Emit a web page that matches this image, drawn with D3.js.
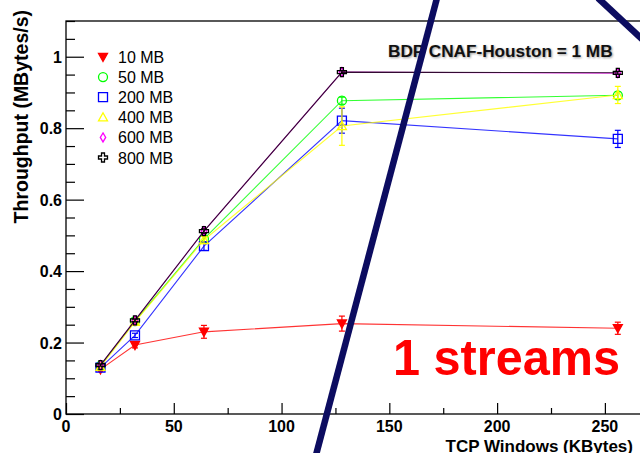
<!DOCTYPE html>
<html>
<head>
<meta charset="utf-8">
<script src="https://cdn.jsdelivr.net/npm/d3@7"></script>
<style>
  html, body { margin: 0; padding: 0; background: #fff; }
  svg { display: block; }
  text { font-family: "Liberation Sans", Arial, sans-serif; }
</style>
</head>
<body>
<svg id="chart" width="640" height="453"></svg>
<script>
// TCP window sizes (KBytes) probed for each transfer size
const windows = [16, 32, 64, 128, 256];

// Series labels, colours and marker kinds
const seriesNames = ["10 MB", "50 MB", "200 MB", "400 MB", "600 MB", "800 MB"];
const seriesColors = ["#ff0000", "#00ff00", "#0000ff", "#ffff00", "#ff00ff", "#000000"];
const seriesMarkers = ["triangleDown", "circle", "square", "triangleUp", "diamond", "cross"];

// Mean throughput (MBytes/s) per window size
const thr10 = [0.125, 0.193, 0.230, 0.253, 0.240];
const thr50 = [0.135, 0.260, 0.490, 0.877, 0.892];
const thr200 = [0.130, 0.220, 0.470, 0.821, 0.770];
const thr400 = [0.132, 0.258, 0.487, 0.806, 0.893];
const thr600 = [0.137, 0.262, 0.512, 0.957, 0.954];
const thr800 = [0.137, 0.262, 0.512, 0.957, 0.955];

// Spread of the measurements (MBytes/s)
const err10 = [0.006, 0.008, 0.018, 0.021, 0.017];
const err50 = [0.004, 0.006, 0.010, 0.010, 0.010];
const err200 = [0.004, 0.006, 0.012, 0.035, 0.024];
const err400 = [0.004, 0.006, 0.010, 0.054, 0.024];
const err600 = [0.003, 0.004, 0.006, 0.004, 0.004];
const err800 = [0.003, 0.004, 0.006, 0.004, 0.004];

const seriesValues = [thr10, thr50, thr200, thr400, thr600, thr800];
const seriesErrors = [err10, err50, err200, err400, err600, err800];

// Axis ticks
const yMajorTicks = [0, 0.2, 0.4, 0.6, 0.8, 1];
const yTickLabels = ["0", "0.2", "0.4", "0.6", "0.8", "1"];
const xMajorTicks = [0, 50, 100, 150, 200, 250];
const xTickLabels = ["0", "50", "100", "150", "200", "250"];

const svg = d3.select("#chart");

const frame = { left: 66, top: 21, bottom: 414, right: 648 };
const x = d3.scaleLinear().domain([0, 270]).range([frame.left, frame.right]);
const y = d3.scaleLinear().domain([0, 1.1]).range([frame.bottom, frame.top]);

// Frame (right edge lies past the window)
svg.append("rect")
  .attr("x", frame.left).attr("y", frame.top)
  .attr("width", frame.right - frame.left).attr("height", frame.bottom - frame.top)
  .attr("fill", "none").attr("stroke", "#000").attr("stroke-width", 1.3);

// Y axis: inward ticks, major every 0.2, minor every 0.05
const yMinor = d3.range(0, 1.1001, 0.05).filter(v => !yMajorTicks.some(m => Math.abs(m - v) < 1e-6));
const yAxisMajor = d3.axisRight(y).tickValues(yMajorTicks).tickSize(18).tickFormat("");
const yAxisMinor = d3.axisRight(y).tickValues(yMinor).tickSize(9).tickFormat("");
[yAxisMajor, yAxisMinor].forEach(ax => {
  const g = svg.append("g").attr("transform", `translate(${frame.left},0)`).call(ax);
  g.select(".domain").remove();
  g.selectAll("line").attr("stroke", "#000").attr("stroke-width", 1.2);
});
svg.append("g").selectAll("text").data(yMajorTicks).join("text")
  .attr("x", 62).attr("y", d => y(d) + 6)
  .attr("text-anchor", "end").attr("font-size", 16).attr("font-weight", "bold")
  .text((d, i) => yTickLabels[i]);

// X axis: inward ticks, major every 50, minor every 25
const xMinor = d3.range(25, 270, 50);
const xAxisMajor = d3.axisTop(x).tickValues(xMajorTicks).tickSize(11).tickFormat("");
const xAxisMinor = d3.axisTop(x).tickValues(xMinor).tickSize(6).tickFormat("");
[xAxisMajor, xAxisMinor].forEach(ax => {
  const g = svg.append("g").attr("transform", `translate(0,${frame.bottom})`).call(ax);
  g.select(".domain").remove();
  g.selectAll("line").attr("stroke", "#000").attr("stroke-width", 1.2);
});
svg.append("g").selectAll("text").data(xMajorTicks).join("text")
  .attr("x", d => x(d)).attr("y", 432)
  .attr("text-anchor", "middle").attr("font-size", 16).attr("font-weight", "bold")
  .text((d, i) => xTickLabels[i]);

// Axis titles
svg.append("text")
  .attr("transform", "translate(28,10) rotate(-90)")
  .attr("text-anchor", "end").attr("font-size", 19.5).attr("font-weight", "bold")
  .text("Throughput (MBytes/s)");
svg.append("text")
  .attr("x", 633).attr("y", 452)
  .attr("text-anchor", "end").attr("font-size", 17).attr("font-weight", "bold")
  .text("TCP Windows (KBytes)");

// Marker shapes
function markerPath(kind, s) {
  const h = s / 2;
  switch (kind) {
    case "triangleDown": return `M${-h},${-h * 0.8}L${h},${-h * 0.8}L0,${h}Z`;
    case "triangleUp": return `M${-h},${h * 0.8}L${h},${h * 0.8}L0,${-h}Z`;
    case "square": return `M${-h},${-h}H${h}V${h}H${-h}Z`;
    case "diamond": return `M0,${-h}L${h * 0.6},0L0,${h}L${-h * 0.6},0Z`;
    case "cross": {
      const a = h * 0.33;
      return `M${-a},${-h}H${a}V${-a}H${h}V${a}H${a}V${h}H${-a}V${a}H${-h}V${-a}H${-a}Z`;
    }
    default: return null;
  }
}
function drawMarker(g, kind, color, cx, cy, s) {
  if (kind === "circle") {
    g.append("circle").attr("cx", cx).attr("cy", cy).attr("r", s / 2)
      .attr("fill", "none").attr("stroke", color).attr("stroke-width", 1.3);
  } else {
    g.append("path").attr("d", markerPath(kind, s))
      .attr("transform", `translate(${cx},${cy})`)
      .attr("fill", kind === "triangleDown" ? color : "none")
      .attr("stroke", color).attr("stroke-width", 1.3);
  }
}

// Series: connecting lines, error bars, markers
const line = d3.line().x(d => x(d[0])).y(d => y(d[1]));
seriesNames.forEach((name, si) => {
  const color = seriesColors[si];
  const pts = windows.map((w, i) => [w, seriesValues[si][i], seriesErrors[si][i]]);
  const g = svg.append("g");
  g.append("path").attr("d", line(pts))
    .attr("fill", "none").attr("stroke", color).attr("stroke-width", 1.1).attr("opacity", 0.8);
  pts.forEach(p => {
    const cx = x(p[0]);
    const lo = y(p[1] - p[2]), hi = y(p[1] + p[2]);
    g.append("line").attr("x1", cx).attr("x2", cx).attr("y1", lo).attr("y2", hi)
      .attr("stroke", color).attr("stroke-width", 1.2);
    [lo, hi].forEach(v => g.append("line")
      .attr("x1", cx - 3).attr("x2", cx + 3).attr("y1", v).attr("y2", v)
      .attr("stroke", color).attr("stroke-width", 1.2));
    drawMarker(g, seriesMarkers[si], color, cx, y(p[1]), 9);
  });
});

// Legend
const legend = svg.append("g");
seriesNames.forEach((name, i) => {
  const cy = 57 + i * 20.1;
  drawMarker(legend, seriesMarkers[i], seriesColors[i], 103, cy, 9);
  legend.append("text").attr("x", 118).attr("y", cy + 6)
    .attr("font-size", 16).text(name);
});

// Bandwidth-delay product note
const defs = svg.append("defs");
const sh = defs.append("filter").attr("id", "soft").attr("x", "-5%").attr("y", "-30%")
  .attr("width", "110%").attr("height", "160%");
sh.append("feGaussianBlur").attr("stdDeviation", 0.9);
svg.append("text").attr("x", 389).attr("y", 58)
  .attr("font-size", 17.2).attr("font-weight", "bold").attr("fill", "#999")
  .attr("filter", "url(#soft)").text("BDP CNAF-Houston = 1 MB");
svg.append("text").attr("x", 388).attr("y", 57)
  .attr("font-size", 17.2).attr("font-weight", "bold").attr("fill", "#111")
  .text("BDP CNAF-Houston = 1 MB");

// Stream count caption
svg.append("text").attr("x", 393).attr("y", 375)
  .attr("font-family", "'DejaVu Sans', sans-serif")
  .attr("font-size", 50).attr("font-weight", "bold").attr("fill", "#ff0000")
  .attr("textLength", 227).attr("lengthAdjust", "spacingAndGlyphs")
  .text("1 streams");

// Hand-drawn strokes across the plot
const strokes = [
  [[437, -2], [316, 455]],
  [[598, -2], [642, 39]]
];
svg.append("g").selectAll("path").data(strokes).join("path")
  .attr("d", d => d3.line()(d))
  .attr("stroke", "#0c0c60").attr("stroke-width", 6.5).attr("fill", "none");
</script>
</body>
</html>
